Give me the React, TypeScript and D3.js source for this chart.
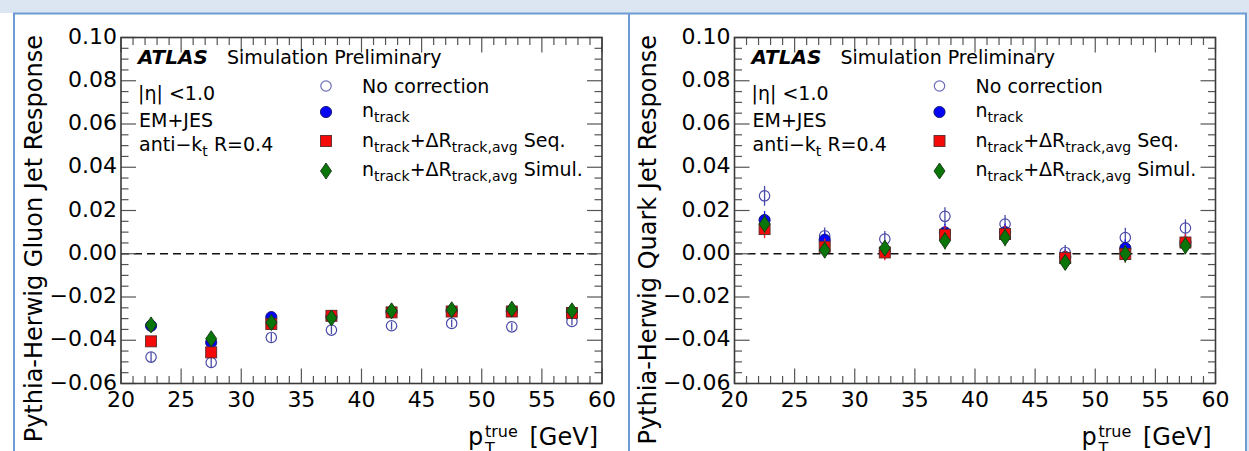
import React from "react";
import * as d3 from "d3";

// bin centres in pT (GeV)
const ptBins = [22.5, 27.5, 32.5, 37.5, 42.5, 47.5, 52.5, 57.5];

// gluon jets (left panel)
const gluonNoCorr = [-0.0478, -0.0503, -0.0387, -0.0353, -0.0333, -0.0322, -0.0338, -0.0313];
const gluonNoCorrErr = [0.0022, 0.0022, 0.002, 0.0018, 0.0018, 0.0018, 0.0018, 0.0018];
const gluonNTrack = [-0.0333, -0.041, -0.0293, -0.029, -0.027, -0.0265, -0.0265, -0.027];
const gluonSeq = [-0.0405, -0.0456, -0.0325, -0.0287, -0.0271, -0.0267, -0.0267, -0.0274];
const gluonSimul = [-0.0329, -0.0393, -0.0318, -0.0297, -0.0264, -0.0259, -0.0256, -0.0264];
const gluonErr = [0.0015, 0.0015, 0.0015, 0.0015, 0.0015, 0.0015, 0.0015, 0.0015];

// quark jets (right panel)
const quarkNoCorr = [0.0268, 0.0083, 0.0068, 0.0173, 0.0137, 0.0006, 0.0075, 0.0119];
const quarkNoCorrErr = [0.0046, 0.0038, 0.0037, 0.0042, 0.0042, 0.0034, 0.0045, 0.004];
const quarkNTrack = [0.0156, 0.0065, 0.0012, 0.0099, 0.01, -0.0015, 0.0026, 0.0052];
const quarkSeq = [0.0114, 0.0032, 0.0006, 0.0088, 0.0091, -0.002, -0.0001, 0.0052];
const quarkSimul = [0.0137, 0.0017, 0.0026, 0.006, 0.0075, -0.004, 0.0, 0.0037];
const quarkErr = [0.0042, 0.0038, 0.0036, 0.004, 0.004, 0.0035, 0.004, 0.004];

const xDomain = [20, 60];
const yDomain = [-0.06, 0.1];
const xTickValues = [20, 25, 30, 35, 40, 45, 50, 55, 60];
const yTickValues = [-0.06, -0.04, -0.02, 0.0, 0.02, 0.04, 0.06, 0.08, 0.1];

const FONT = "DejaVu Sans";
const FRAME = "#3a3a3a";
const BORDER = "#6f9bd4";
const OPEN = "#4a4aa8";

const W = 1249;
const H = 451;

// one marker drawn from centre (cx, cy)
const Marker = ({ kind, cx, cy, legend = false }) => {
  if (kind === "open")
    return <circle cx={cx} cy={cy} r={5.2} fill={legend ? "white" : "none"} stroke={legend ? "#6a6ab8" : OPEN} strokeWidth={1.2} />;
  if (kind === "circle")
    return <circle cx={cx} cy={cy} r={5.6} fill="#0505f5" stroke="#10106a" strokeWidth={0.9} />;
  if (kind === "square")
    return <rect x={cx - 5.5} y={cy - 5.5} width={11} height={11} fill="#f50a0a" stroke="#5a2a2a" strokeWidth={0.9} />;
  const p = d3.path();
  p.moveTo(cx, cy - 8);
  p.lineTo(cx + 5.5, cy);
  p.lineTo(cx, cy + 8);
  p.lineTo(cx - 5.5, cy);
  p.closePath();
  return <path d={p.toString()} fill="#0a760a" stroke="#163316" strokeWidth={0.9} />;
};

const errColor = { open: OPEN, circle: "#1a1aff", square: "#ff2020", diamond: "#0a760a" };

const Panel = ({ shift, yLabel, series }) => {
  const pl = 121 + shift;
  const pr = 602 + shift;
  const pt = 37.5;
  const pb = 383.5;
  const x = d3.scaleLinear().domain(xDomain).range([pl, pr]);
  const y = d3.scaleLinear().domain(yDomain).range([pb, pt]);
  const fy = d3.format(".2f");
  const xMinor = d3.range(20, 61, 1).filter((v) => v % 5 !== 0);
  const yMinor = d3.range(-12, 21).map((v) => v * 0.005).filter((_, i) => i % 4 !== 0);
  const major = 15;
  const minor = 7.5;

  const legendRows = [
    { kind: "open", base: 93, my: 86, text: [["No correction", 0]] },
    { kind: "circle", base: 117, my: 112, text: [["n", 0], ["track", 1]] },
    { kind: "square", base: 147, my: 141, text: [["n", 0], ["track", 1], ["+ΔR", 0], ["track,avg", 1], [" Seq.", 0]] },
    { kind: "diamond", base: 176, my: 171, text: [["n", 0], ["track", 1], ["+ΔR", 0], ["track,avg", 1], [" Simul.", 0]] },
  ];

  return (
    <g fontFamily={FONT}>
      {/* zero line */}
      <line x1={pl} x2={pr} y1={y(0)} y2={y(0)} stroke="#111" strokeWidth={1.4} strokeDasharray="8,5" />

      {/* ticks on all four sides */}
      <g stroke="#555" strokeWidth={1.2}>
        {xTickValues.map((v) => (
          <g key={"xm" + v}>
            <line x1={x(v)} x2={x(v)} y1={pb} y2={pb - major} />
            <line x1={x(v)} x2={x(v)} y1={pt} y2={pt + major} />
          </g>
        ))}
        {xMinor.map((v) => (
          <g key={"xn" + v}>
            <line x1={x(v)} x2={x(v)} y1={pb} y2={pb - minor} />
            <line x1={x(v)} x2={x(v)} y1={pt} y2={pt + minor} />
          </g>
        ))}
        {yTickValues.map((v) => (
          <g key={"ym" + v}>
            <line x1={pl} x2={pl + major} y1={y(v)} y2={y(v)} />
            <line x1={pr} x2={pr - major} y1={y(v)} y2={y(v)} />
          </g>
        ))}
        {yMinor.map((v) => (
          <g key={"yn" + v}>
            <line x1={pl} x2={pl + minor} y1={y(v)} y2={y(v)} />
            <line x1={pr} x2={pr - minor} y1={y(v)} y2={y(v)} />
          </g>
        ))}
      </g>
      <rect x={pl} y={pt} width={pr - pl} height={pb - pt} fill="none" stroke={FRAME} strokeWidth={1.6} />

      {/* tick labels */}
      {yTickValues.map((v) => (
        <text key={"yl" + v} x={pl - 4} y={y(v) + 6} textAnchor="end" fontSize={22} fill="#000">
          {fy(v)}
        </text>
      ))}
      {xTickValues.map((v) => (
        <text key={"xl" + v} x={x(v)} y={pb + 23} textAnchor="middle" fontSize={22} fill="#000">
          {v}
        </text>
      ))}

      {/* axis titles */}
      <text transform={`translate(${42 + shift},35) rotate(-90)`} textAnchor="end" fontSize={24} fill="#000">
        {yLabel}
      </text>
      <text x={pr - 134} y={445} fontSize={24} fill="#000">p</text>
      <text x={pr - 117} y={437} fontSize={16} fill="#000">true</text>
      <text x={pr - 117} y={454} fontSize={16} fill="#000">T</text>
      <text x={pr - 4} y={445} fontSize={24} textAnchor="end" fill="#000">[GeV]</text>

      {/* annotations */}
      <text x={pl + 17} y={64} fontSize={20} fontWeight="bold" fontStyle="italic" fill="#000">ATLAS</text>
      <text x={pl + 106} y={64} fontSize={19} fill="#000">Simulation Preliminary</text>
      <text x={pl + 17} y={100} fontSize={19} fill="#000">|η| &lt;1.0</text>
      <text x={pl + 18} y={127} fontSize={19} fill="#000">EM+JES</text>
      <text x={pl + 18} y={151} fontSize={19} fill="#000" style={{ whiteSpace: "pre" }}>
        <tspan>anti−k</tspan>
        <tspan fontSize={14} dy={5}>t</tspan>
        <tspan dy={-5}> R=0.4</tspan>
      </text>

      {/* legend */}
      {legendRows.map((row) => (
        <g key={row.kind}>
          <Marker kind={row.kind} cx={pl + 205} cy={row.my} legend />
          <text x={pl + 241} y={row.base} fontSize={19} fill="#000" style={{ whiteSpace: "pre" }}>
            {row.text.map(([t, sub], i) => {
              const prev = i > 0 ? row.text[i - 1][1] : 0;
              const dy = sub && !prev ? 5 : !sub && prev ? -5 : 0;
              return (
                <tspan key={i} fontSize={sub ? 14 : 19} dy={dy}>
                  {t}
                </tspan>
              );
            })}
          </text>
        </g>
      ))}

      {/* data */}
      {series.map((s) => (
        <g key={s.kind}>
          {ptBins.map((b, i) => (
            <line
              key={"e" + i}
              x1={x(b)}
              x2={x(b)}
              y1={y(s.values[i] - s.err[i])}
              y2={y(s.values[i] + s.err[i])}
              stroke={errColor[s.kind]}
              strokeWidth={1.3}
            />
          ))}
          {ptBins.map((b, i) => (
            <Marker key={"m" + i} kind={s.kind} cx={x(b)} cy={y(s.values[i])} />
          ))}
        </g>
      ))}
    </g>
  );
};

export default function App() {
  const gluonSeries = [
    { kind: "open", values: gluonNoCorr, err: gluonNoCorrErr },
    { kind: "circle", values: gluonNTrack, err: gluonErr },
    { kind: "square", values: gluonSeq, err: gluonErr },
    { kind: "diamond", values: gluonSimul, err: gluonErr },
  ];
  const quarkSeries = [
    { kind: "open", values: quarkNoCorr, err: quarkNoCorrErr },
    { kind: "circle", values: quarkNTrack, err: quarkErr },
    { kind: "square", values: quarkSeq, err: quarkErr },
    { kind: "diamond", values: quarkSimul, err: quarkErr },
  ];

  return (
    <svg width={W} height={H} style={{ position: "absolute", left: 0, top: 0, background: "white" }}>
      {/* slide frame */}
      <rect x={0} y={0} width={W} height={13} fill="#dce6f2" />
      <rect x={1247} y={0} width={2} height={H} fill="#dce6f2" />
      <line x1={13} x2={1247} y1={13.5} y2={13.5} stroke={BORDER} strokeWidth={2} />
      <line x1={14} x2={14} y1={13} y2={H} stroke={BORDER} strokeWidth={2} />
      <line x1={629} x2={629} y1={13} y2={H} stroke={BORDER} strokeWidth={2} />
      <line x1={1246} x2={1246} y1={13} y2={H} stroke={BORDER} strokeWidth={2} />

      <Panel shift={0} yLabel="Pythia-Herwig Gluon Jet Response" series={gluonSeries} />
      <Panel shift={613.5} yLabel="Pythia-Herwig Quark Jet Response" series={quarkSeries} />
    </svg>
  );
}
